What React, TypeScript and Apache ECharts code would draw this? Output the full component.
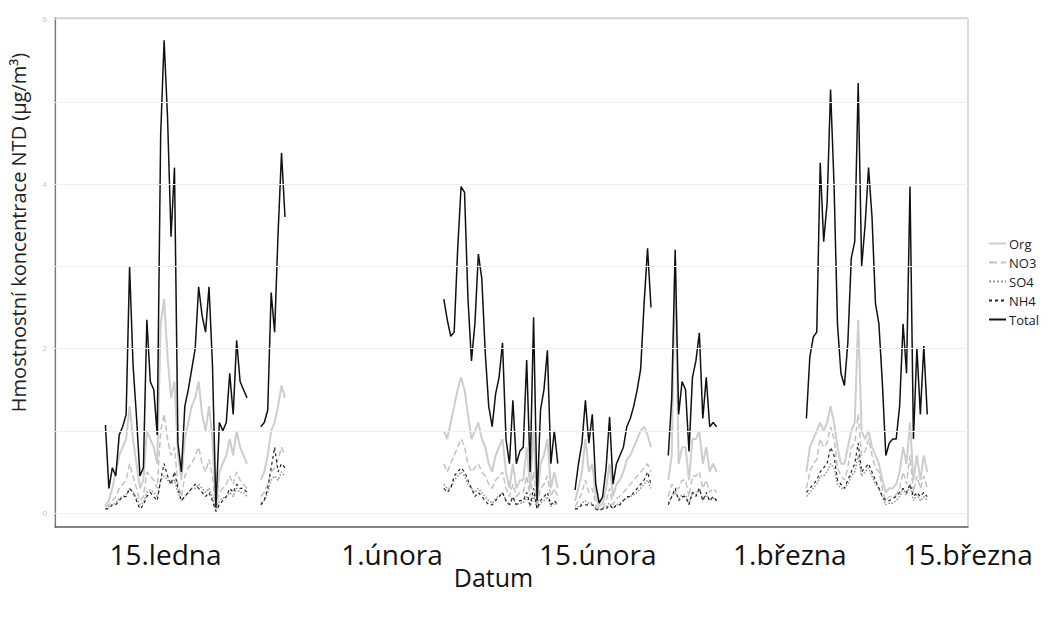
import React, { useEffect, useRef } from "react";
import * as echarts from "echarts";

// Segment start days (day of year) and sampling step (days)
const SEG_START = [10.75, 35.25, 44.75, 61.5];
const STEP = 0.25;

// Values per segment (µg/m³)
const totalValues = [
  [1.07, 0.3, 0.55, 0.45, 0.95, 1.05, 1.2, 3.0, 1.8, 1.17, 0.45, 0.55, 2.35, 1.6, 1.5, 0.95, 4.6, 5.75, 4.8, 3.36, 4.2, 0.85, 0.5, 1.3, 1.5, 1.75, 2.0, 2.75, 2.4, 2.2, 2.75, 1.8, 0.07, 1.1, 1.0, 1.1, 1.7, 1.2, 2.1, 1.6, 1.5, 1.4, null, null, null, 1.05, 1.1, 1.25, 2.68, 2.2, 3.4, 4.38, 3.6],
  [2.6, 2.35, 2.15, 2.2, 3.2, 3.97, 3.9, 2.6, 1.85, 2.3, 3.15, 2.85, 1.95, 1.3, 1.05, 1.45, 1.65, 2.07, 0.9, 0.6, 1.37, 0.6, 0.75, 0.8, 1.86, 0.5, 2.38, 0.15, 1.25, 1.5, 1.98, 0.6, 1.0, 0.6],
  [0.28, 0.6, 0.85, 1.37, 0.85, 1.2, 0.35, 0.12, 0.2, 0.55, 1.17, 0.35, 0.6, 0.7, 0.8, 1.05, 1.15, 1.3, 1.5, 1.75, 2.55, 3.22, 2.5, null, null, null, null, 0.7, 1.4, 3.2, 1.2, 1.6, 1.5, 0.75, 1.65, 1.85, 2.19, 1.15, 1.65, 1.05, 1.1, 1.05],
  [1.15, 1.9, 2.14, 2.2, 4.26, 3.3, 3.77, 5.15, 4.0, 2.3, 1.7, 1.55, 2.07, 3.1, 3.3, 5.23, 3.0, 3.5, 4.2, 3.6, 2.55, 2.3, 1.58, 0.7, 0.85, 0.9, 0.9, 1.3, 2.3, 1.7, 3.97, 0.9, 2.0, 1.2, 2.03, 1.2],
];
const orgValues = [
  [0.1, 0.15, 0.3, 0.5, 0.7, 0.8, 0.9, 1.3, 0.9, 0.6, 0.3, 0.4, 1.0, 0.9, 0.8, 0.6, 2.3, 2.6, 1.9, 1.4, 1.6, 0.7, 0.4, 0.9, 1.1, 1.3, 1.4, 1.6, 1.2, 1.0, 1.3, 0.9, 0.05, 0.5, 0.6, 0.7, 0.9, 0.7, 1.0, 0.8, 0.7, 0.6, null, null, null, 0.4, 0.5, 0.7, 1.0, 1.1, 1.3, 1.55, 1.4],
  [1.0, 0.9, 1.1, 1.3, 1.5, 1.65, 1.5, 1.2, 0.9, 1.0, 1.1, 0.9, 0.8, 0.6, 0.5, 0.7, 0.8, 0.9, 0.5, 0.3, 0.6, 0.3, 0.4, 0.4, 0.8, 0.3, 1.0, 0.1, 0.6, 0.7, 0.9, 0.3, 0.5, 0.3],
  [0.15, 0.3, 0.5, 0.9, 0.5, 0.6, 0.2, 0.08, 0.12, 0.3, 0.6, 0.2, 0.35, 0.4, 0.5, 0.65, 0.7, 0.8, 0.9, 1.0, 1.05, 0.95, 0.8, null, null, null, null, 0.4, 0.7, 3.1, 0.6, 0.8, 0.8, 0.4, 0.9, 0.9, 1.0, 0.6, 0.8, 0.5, 0.6, 0.5],
  [0.5, 0.8, 0.9, 1.0, 1.1, 1.0, 1.1, 1.3, 1.1, 0.8, 0.6, 0.6, 0.8, 1.0, 1.1, 2.35, 1.0, 0.9, 1.0, 0.8, 0.7, 0.6, 0.4, 0.25, 0.3, 0.3, 0.35, 0.5, 0.8, 0.6, 1.1, 0.4, 0.7, 0.4, 0.7, 0.5],
];
const no3Values = [
  [0.08, 0.1, 0.15, 0.2, 0.3, 0.35, 0.4, 0.6, 0.45, 0.3, 0.15, 0.2, 0.5, 0.45, 0.4, 0.3, 1.0, 1.2, 0.9, 0.7, 0.8, 0.35, 0.2, 0.45, 0.55, 0.6, 0.7, 0.8, 0.6, 0.5, 0.65, 0.45, 0.03, 0.25, 0.3, 0.35, 0.45, 0.35, 0.5, 0.4, 0.35, 0.3, null, null, null, 0.2, 0.25, 0.35, 0.5, 0.55, 0.65, 0.8, 0.7],
  [0.6, 0.5, 0.6, 0.7, 0.8, 0.9, 0.8, 0.6, 0.5, 0.55, 0.6, 0.5, 0.45, 0.35, 0.3, 0.4, 0.45, 0.5, 0.3, 0.2, 0.35, 0.2, 0.25, 0.25, 0.45, 0.2, 0.5, 0.08, 0.3, 0.35, 0.45, 0.2, 0.3, 0.2],
  [0.08, 0.15, 0.25, 0.4, 0.25, 0.3, 0.1, 0.05, 0.06, 0.15, 0.3, 0.1, 0.18, 0.2, 0.25, 0.3, 0.35, 0.4, 0.45, 0.5, 0.55, 0.6, 0.5, null, null, null, null, 0.2, 0.35, 0.3, 0.3, 0.4, 0.4, 0.2, 0.45, 0.45, 0.5, 0.3, 0.4, 0.25, 0.3, 0.25],
  [0.3, 0.5, 0.6, 0.65, 0.9, 0.8, 0.85, 1.05, 0.9, 0.55, 0.45, 0.4, 0.55, 0.8, 0.85, 1.2, 0.7, 0.75, 0.9, 0.7, 0.55, 0.5, 0.3, 0.15, 0.2, 0.2, 0.22, 0.3, 0.5, 0.35, 0.7, 0.25, 0.45, 0.3, 0.45, 0.3],
];
const so4Values = [
  [0.05, 0.08, 0.1, 0.12, 0.18, 0.2, 0.22, 0.3, 0.25, 0.18, 0.1, 0.12, 0.25, 0.28, 0.25, 0.2, 0.4, 0.45, 0.4, 0.35, 0.4, 0.25, 0.15, 0.2, 0.25, 0.3, 0.3, 0.35, 0.3, 0.25, 0.3, 0.2, 0.03, 0.15, 0.18, 0.2, 0.25, 0.2, 0.3, 0.25, 0.25, 0.2, null, null, null, 0.12, 0.15, 0.25, 0.4, 0.45, 0.4, 0.5, 0.45],
  [0.35, 0.3, 0.3, 0.4, 0.45, 0.5, 0.45, 0.35, 0.3, 0.25, 0.3, 0.25, 0.2, 0.15, 0.12, 0.18, 0.2, 0.25, 0.15, 0.1, 0.18, 0.1, 0.12, 0.12, 0.2, 0.08, 0.22, 0.05, 0.12, 0.15, 0.2, 0.08, 0.12, 0.1],
  [0.05, 0.08, 0.12, 0.15, 0.12, 0.12, 0.06, 0.04, 0.05, 0.08, 0.12, 0.06, 0.1, 0.12, 0.15, 0.18, 0.2, 0.22, 0.25, 0.3, 0.35, 0.4, 0.3, null, null, null, null, 0.12, 0.2, 0.25, 0.18, 0.22, 0.22, 0.12, 0.25, 0.22, 0.3, 0.15, 0.22, 0.15, 0.18, 0.15],
  [0.2, 0.25, 0.3, 0.35, 0.45, 0.45, 0.5, 0.6, 0.55, 0.35, 0.3, 0.3, 0.35, 0.45, 0.5, 0.7, 0.45, 0.5, 0.55, 0.45, 0.35, 0.3, 0.2, 0.1, 0.12, 0.12, 0.15, 0.2, 0.3, 0.22, 0.35, 0.15, 0.22, 0.15, 0.2, 0.15],
];
const nh4Values = [
  [0.05, 0.05, 0.1, 0.1, 0.15, 0.2, 0.2, 0.3, 0.25, 0.15, 0.05, 0.1, 0.2, 0.25, 0.2, 0.15, 0.4, 0.6, 0.45, 0.35, 0.5, 0.3, 0.15, 0.2, 0.25, 0.3, 0.35, 0.3, 0.25, 0.2, 0.25, 0.15, 0.02, 0.1, 0.15, 0.2, 0.3, 0.25, 0.35, 0.3, 0.3, 0.25, null, null, null, 0.1, 0.15, 0.3, 0.55, 0.8, 0.5, 0.6, 0.55],
  [0.3, 0.25, 0.3, 0.45, 0.5, 0.55, 0.5, 0.4, 0.3, 0.2, 0.25, 0.2, 0.15, 0.1, 0.1, 0.15, 0.2, 0.25, 0.15, 0.1, 0.2, 0.1, 0.15, 0.15, 0.25, 0.1, 0.3, 0.05, 0.15, 0.2, 0.25, 0.1, 0.15, 0.1],
  [0.05, 0.05, 0.1, 0.1, 0.1, 0.1, 0.05, 0.03, 0.05, 0.05, 0.1, 0.05, 0.1, 0.1, 0.15, 0.2, 0.2, 0.25, 0.3, 0.35, 0.4, 0.5, 0.35, null, null, null, null, 0.1, 0.2, 0.3, 0.15, 0.2, 0.2, 0.1, 0.25, 0.2, 0.3, 0.15, 0.25, 0.15, 0.2, 0.15],
  [0.25, 0.3, 0.35, 0.4, 0.5, 0.55, 0.6, 0.8, 0.7, 0.4, 0.35, 0.3, 0.4, 0.5, 0.6, 0.85, 0.5, 0.55, 0.6, 0.5, 0.4, 0.3, 0.2, 0.15, 0.15, 0.18, 0.2, 0.25, 0.3, 0.25, 0.35, 0.2, 0.25, 0.2, 0.25, 0.2],
];

// Axis ticks / labels (label positions)
const X_LABEL_DAYS = [15.1, 31.5, 46.4, 60.3, 73.2];
const X_LABEL_TEXT = ["15.ledna", "1.února", "15.února", "1.března", "15.března"];
const Y_LABELS = [0, 2, 4, 6];
const Y_GRID = [0, 1, 2, 3, 4, 5, 6];

const SERIES_NAMES = ["Org", "NO3", "SO4", "NH4", "Total"];

function build(segs: (number | null)[][]) {
  const out: any[] = [];
  segs.forEach((seg, s) => {
    if (s > 0) out.push([SEG_START[s] - STEP, "-"]);
    seg.forEach((v, i) => out.push([SEG_START[s] + i * STEP, v == null ? "-" : v]));
  });
  return out;
}

export default function App() {
  const ref = useRef<HTMLDivElement>(null);
  useEffect(() => {
    document.body.style.margin = "0";
    const chart = echarts.init(ref.current!, null, { renderer: "svg" });
    const styles: any = {
      Org: { color: "#cdcdcd", width: 2, type: "solid", data: orgValues },
      NO3: { color: "#c2c2c2", width: 1.5, type: "dashed", data: no3Values },
      SO4: { color: "#9a9a9a", width: 1.6, type: "dotted", data: so4Values },
      NH4: { color: "#222222", width: 1.2, type: [3, 3], data: nh4Values },
      Total: { color: "#111111", width: 1.5, type: "solid", data: totalValues },
    };
    chart.setOption({
      animation: false,
      backgroundColor: "#ffffff",
      grid: {
        left: 52,
        right: 88,
        top: 18,
        bottom: 95,
        show: true,
        borderColor: "#b5b5b5",
        borderWidth: 1,
      },
      legend: {
        orient: "vertical",
        left: 983,
        top: 232,
        itemWidth: 17,
        itemHeight: 12,
        itemGap: 6,
        data: SERIES_NAMES,
        itemStyle: { opacity: 0 },
        textStyle: { fontFamily: "Open Sans", fontSize: 13, color: "#222", padding: [0, 0, 0, -2] },
      },
      xAxis: {
        type: "value",
        min: 7.1,
        max: 73.2,
        name: "Datum",
        nameLocation: "middle",
        nameGap: 37,
        nameMoveOverlap: false,
        nameTextStyle: { fontFamily: "Open Sans", fontSize: 25, color: "#111", padding: [0, 36, 0, 0] },
        axisLine: { show: true, onZero: false, lineStyle: { color: "#666", width: 1.5 } },
        axisTick: { show: false },
        splitLine: { show: false },
        axisLabel: {
          customValues: X_LABEL_DAYS,
          margin: 13,
          fontFamily: "Open Sans",
          fontSize: 28,
          color: "#111",
          formatter: (v: number) => {
            const i = X_LABEL_DAYS.findIndex((d) => Math.abs(d - v) < 0.01);
            return i >= 0 ? X_LABEL_TEXT[i] : "";
          },
        },
      },
      yAxis: {
        type: "value",
        min: -0.17,
        max: 6.02,
        name: "Hmostnostní koncentrace NTD (µg/m³)",
        nameLocation: "middle",
        nameGap: 27,
        nameMoveOverlap: false,
        nameTextStyle: { fontFamily: "Open Sans", fontSize: 20, color: "#222", padding: [0, 0, 0, 80] },
        axisLine: { show: true, onZero: false, lineStyle: { color: "#777", width: 1.2 } },
        axisTick: { show: false },
        splitLine: { show: false },
        axisLabel: {
          customValues: Y_LABELS,
          margin: 8,
          fontSize: 8,
          color: "#c4c4c4",
          fontFamily: "Liberation Sans",
        },
      },
      series: [
        {
          name: "grid",
          type: "line",
          data: [],
          silent: true,
          z: 0,
          markLine: {
            silent: true,
            symbol: "none",
            label: { show: false },
            lineStyle: { color: "#efefef", width: 1, type: "solid" },
            data: Y_GRID.map((y) => ({ yAxis: y })),
          },
        },
        ...SERIES_NAMES.map((n) => ({
          name: n,
          type: "line",
          showSymbol: false,
          symbol: "none",
          connectNulls: false,
          data: build(styles[n].data),
          itemStyle: { color: styles[n].color },
          lineStyle: { color: styles[n].color, width: styles[n].width, type: styles[n].type },
        })),
      ],
    });
    return () => chart.dispose();
  }, []);
  return <div ref={ref} style={{ width: 1056, height: 622 }} />;
}
